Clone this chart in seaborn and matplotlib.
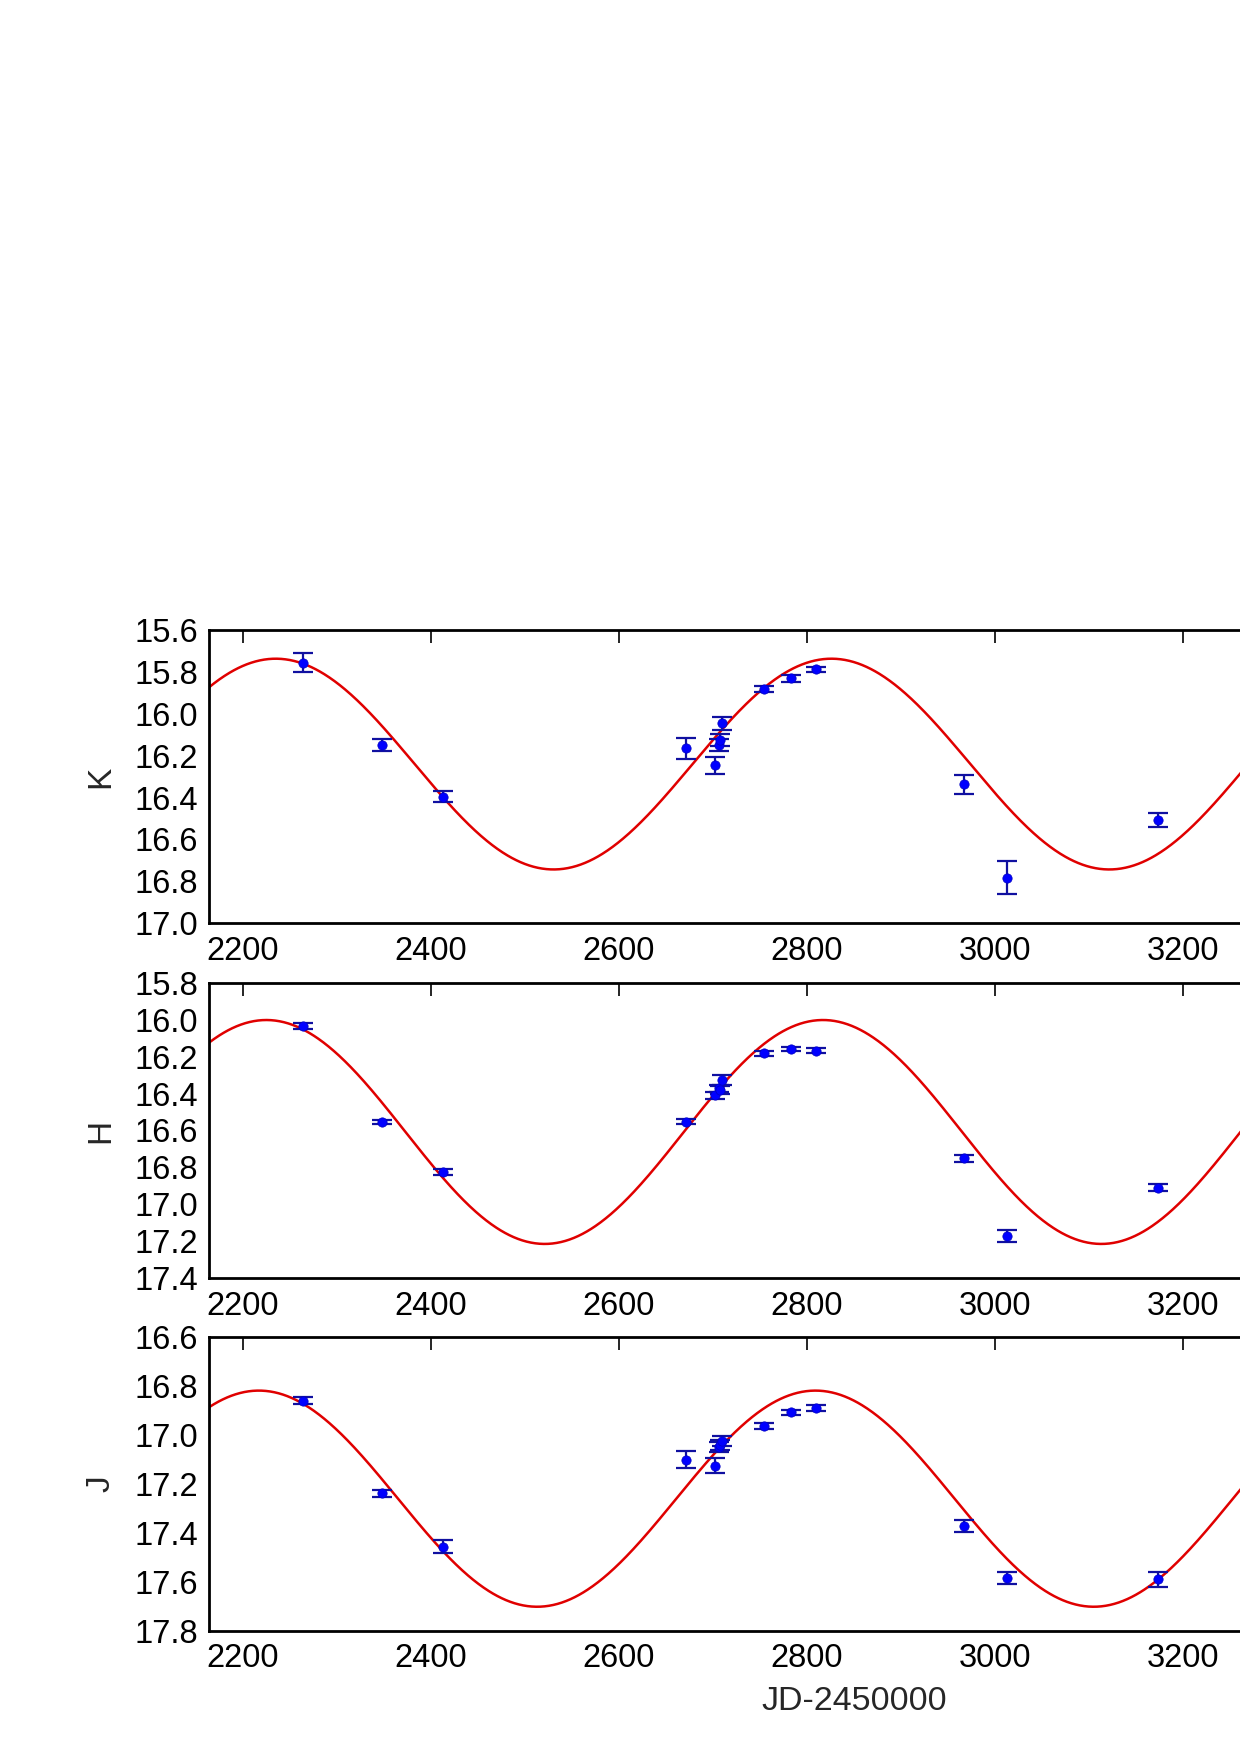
import numpy as np
import pandas as pd
import matplotlib
matplotlib.use("Agg")
import matplotlib.pyplot as plt
import seaborn as sns

# ---- data ----
jd = [2264, 2348.5, 2412.5, 2671, 2702, 2706, 2708, 2710, 2754, 2783.5, 2809.6, 2967, 3013, 3173]

k_mag = [15.756, 16.149, 16.396, 16.165, 16.245, 16.149, 16.125, 16.045, 15.883, 15.831, 15.788, 16.337, 16.782, 16.507]
k_err = [0.045, 0.027, 0.027, 0.049, 0.040, 0.030, 0.030, 0.030, 0.015, 0.018, 0.012, 0.046, 0.080, 0.034]

h_mag = [16.033, 16.553, 16.826, 16.552, 16.410, 16.372, 16.380, 16.327, 16.182, 16.159, 16.168, 16.750, 17.171, 16.909]
h_err = [0.015, 0.012, 0.015, 0.015, 0.020, 0.020, 0.020, 0.025, 0.015, 0.010, 0.015, 0.020, 0.030, 0.020]

j_mag = [16.859, 17.238, 17.456, 17.100, 17.125, 17.050, 17.040, 17.025, 16.964, 16.907, 16.888, 17.372, 17.583, 17.590]
j_err = [0.015, 0.015, 0.025, 0.034, 0.030, 0.020, 0.020, 0.020, 0.012, 0.010, 0.012, 0.025, 0.025, 0.030]

# fitted sinusoid parameters (mean, amplitude, period, epoch of maximum brightness)
k_fit = dict(mean=16.240, amp=0.503, period=591.0, tmax=2235.0)
h_fit = dict(mean=16.608, amp=0.606, period=592.0, tmax=2225.0)
j_fit = dict(mean=17.260, amp=0.442, period=592.0, tmax=2217.0)

band_labels = ["K", "H", "J"]
ylims = [(17.0, 15.6), (17.4, 15.8), (17.8, 16.6)]
yticks = [np.arange(15.6, 17.01, 0.2), np.arange(15.8, 17.41, 0.2), np.arange(16.6, 17.81, 0.2)]
xticks = [2200, 2400, 2600, 2800, 3000, 3200]
xlim = (2164, 3536)
xlabel = "JD-2450000"

# ---- style ----
sns.set_style("white")
plt.rcParams["font.family"] = ["Liberation Sans", "DejaVu Sans"]

fig = plt.figure(figsize=(12.4, 17.55), dpi=100)
W, H = 1240.0, 1755.0
left_px, width_px = 209.0, 1290.0
axes_px = [(630.0, 923.3), (982.7, 1278.3), (1337.3, 1630.7)]

mags = [k_mag, h_mag, j_mag]
errs = [k_err, h_err, j_err]
fits = [k_fit, h_fit, j_fit]

tgrid = np.linspace(xlim[0], xlim[1], 1500)

for i, (top, bot) in enumerate(axes_px):
    ax = fig.add_axes([left_px / W, 1 - bot / H, width_px / W, (bot - top) / H])
    f = fits[i]
    model = f["mean"] - f["amp"] * np.cos(2 * np.pi * (tgrid - f["tmax"]) / f["period"])
    df_fit = pd.DataFrame({"t": tgrid, "m": model})
    sns.lineplot(data=df_fit, x="t", y="m", ax=ax, color="#e00000", lw=1.8, zorder=2)

    df = pd.DataFrame({"t": jd, "m": mags[i], "e": errs[i]})
    ax.errorbar(df["t"], df["m"], yerr=df["e"], fmt="none", ecolor="#1010a0",
                elinewidth=1.6, capsize=7, capthick=1.6, zorder=3)
    sns.scatterplot(data=df, x="t", y="m", ax=ax, color="#0000ff", s=45,
                    edgecolor="#0000c0", linewidth=0.5, zorder=4)

    ax.set_yticks(yticks[i])
    ax.set_yticklabels([f"{v:.1f}" for v in yticks[i]])
    ax.set_xticks(xticks)
    ax.set_xlim(*xlim)
    ax.set_ylim(*ylims[i])
    ax.tick_params(direction="in", length=9, width=1.2, labelsize=23.5,
                   top=True, right=True, pad=8, colors="black")
    ax.tick_params(axis="x", pad=9)
    for sp in ax.spines.values():
        sp.set_linewidth(2.0)
        sp.set_color("black")
    ax.set_ylabel(band_labels[i], fontsize=24)
    ax.yaxis.set_label_coords(-0.072, 0.5)
    ax.grid(False)
    if i == 2:
        ax.set_xlabel(xlabel, fontsize=24.5)
        ax.xaxis.set_label_coords(0.5, -0.19)
    else:
        ax.set_xlabel("")

fig.savefig("out.png", dpi=100)
